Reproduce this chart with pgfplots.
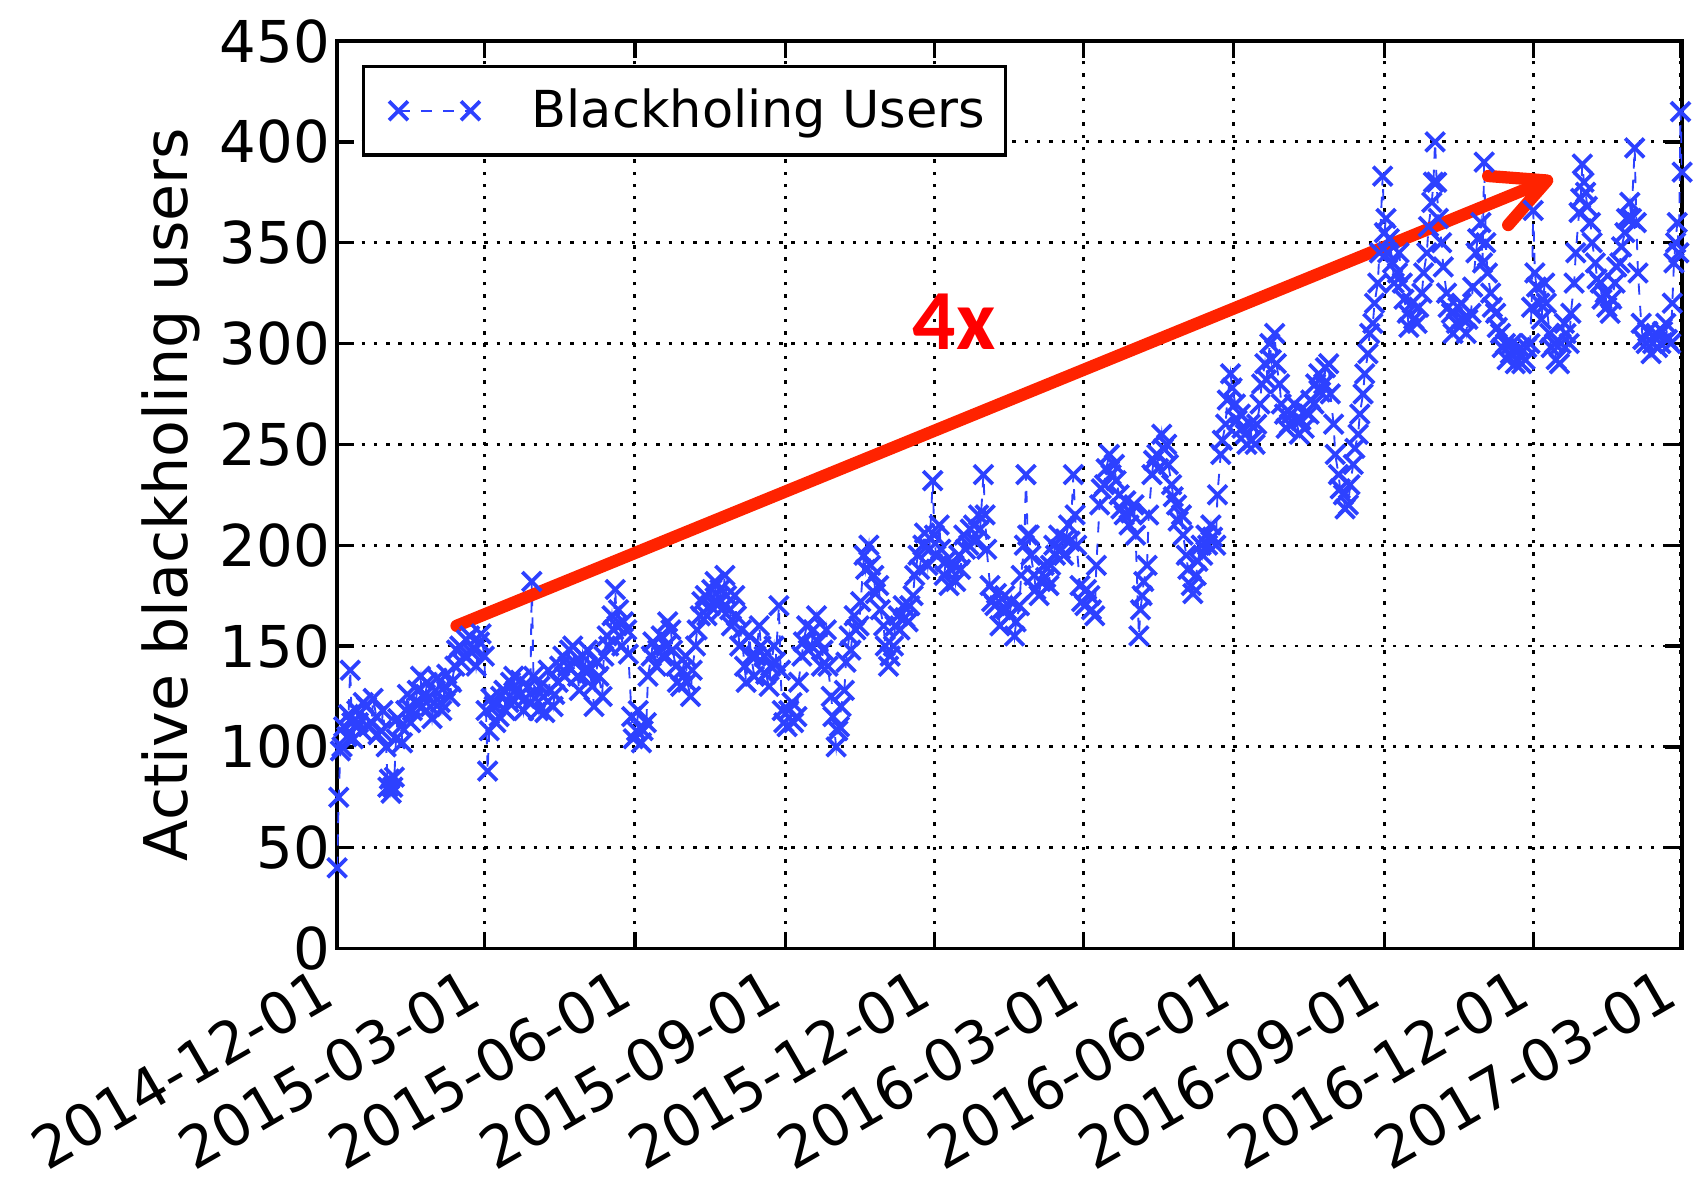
\documentclass[border=0pt]{standalone}
\usepackage{pgfplots}
\pgfplotsset{compat=1.18}
\usepackage{pgfplotstable}
\usepackage{fontspec}
\setmainfont{DejaVu Sans}
\newfontfamily\calib{Carlito}
\usetikzlibrary{arrows.meta}
\definecolor{mplblue}{RGB}{45,65,255}
\definecolor{arrowred}{RGB}{255,35,0}
\newcommand{\fs}{\fontsize{15.5}{18}\selectfont}

% day = days since 2014-12-01
\pgfplotstableread{
day users
0 40
1 75
2 98
3 100
4 110
6 105
7 116
8 138
9 112
10 104
12 118
13 112
15 108
16 122
18 120
19 110
21 112
22 124
24 115
25 106
27 108
28 118
30 100
31 80
32 84
33 77
34 80
35 85
36 104
37 114
39 110
40 102
42 118
43 126
45 112
46 118
48 122
49 128
51 135
52 120
54 126
55 132
57 120
58 114
60 128
61 134
63 122
64 118
66 130
67 136
69 125
70 132
72 140
73 148
75 150
76 142
78 145
79 153
81 155
82 147
84 148
85 140
87 152
88 156
90 145
91 118
92 88
93 108
94 124
96 120
97 112
99 115
100 125
102 128
103 118
105 122
106 132
108 135
109 128
111 125
112 133
114 118
115 124
117 130
118 122
119 182
120 135
121 124
123 118
124 130
126 125
127 117
129 138
130 128
132 120
133 126
135 132
136 140
138 145
139 135
141 140
142 148
144 150
145 142
147 135
148 128
150 145
151 138
153 148
154 138
156 130
157 120
159 142
160 135
162 125
163 145
165 155
166 150
168 165
169 158
170 178
171 160
172 168
174 150
175 162
177 158
178 146
180 115
181 104
183 108
184 118
186 102
187 108
189 112
190 135
192 145
193 152
195 140
196 148
198 155
199 145
201 150
202 162
204 158
205 148
207 140
208 132
210 130
211 138
213 145
214 132
216 125
217 138
219 150
220 158
222 165
223 172
225 175
226 165
228 170
229 178
231 182
232 172
234 178
235 168
237 185
238 175
240 168
241 160
243 175
244 165
246 150
247 158
249 140
250 132
252 155
253 145
255 135
256 145
258 160
259 150
261 145
262 136
264 130
265 140
267 150
268 142
270 170
271 138
272 118
273 112
275 110
276 118
278 122
279 112
281 115
282 132
284 145
285 152
287 160
288 148
290 150
291 158
293 165
294 152
296 140
297 148
299 158
300 140
302 125
303 115
305 100
306 108
307 110
308 120
310 128
311 142
313 155
314 148
316 165
317 158
319 160
320 172
322 195
323 188
325 200
326 190
328 185
329 176
331 180
332 168
334 160
335 150
337 140
338 145
340 150
341 160
343 165
344 158
346 170
347 164
349 162
350 170
352 175
353 185
355 195
356 188
358 200
359 206
361 190
362 198
364 232
365 205
366 195
368 210
369 198
371 185
372 192
374 180
375 188
377 190
378 182
380 195
381 188
383 205
384 198
386 200
387 208
389 210
390 202
392 215
393 208
395 235
396 215
397 198
399 180
400 172
402 170
403 176
405 160
406 168
408 175
409 168
411 165
412 172
414 155
415 162
417 170
418 185
420 200
421 235
422 205
423 205
424 195
426 185
427 178
429 175
430 182
432 190
433 184
435 180
436 190
438 200
439 195
441 205
442 198
444 195
445 203
447 210
448 202
450 235
451 215
452 200
454 180
455 172
457 170
458 178
460 175
461 168
463 165
464 190
466 220
467 228
469 230
470 238
472 245
473 235
475 240
476 232
478 225
479 218
481 215
482 222
484 210
485 216
487 220
488 205
490 155
491 168
492 175
493 182
495 190
496 215
498 235
499 242
501 245
502 238
504 255
505 248
507 250
508 240
510 230
511 224
513 220
514 212
516 215
517 205
519 195
520 188
522 180
523 176
525 185
526 192
528 200
529 195
531 205
532 200
534 210
535 204
537 200
538 225
540 245
541 252
543 260
544 272
546 285
547 278
549 270
550 262
552 265
553 258
555 255
556 250
558 260
559 252
561 250
562 260
564 270
565 280
567 290
568 282
570 300
571 292
573 305
574 290
576 280
577 270
579 265
580 258
582 260
583 265
585 270
586 262
588 255
589 262
591 258
592 266
594 265
595 272
597 270
598 280
600 285
601 276
603 280
604 288
606 290
607 275
609 260
610 245
612 235
613 228
615 225
616 218
618 220
619 230
621 240
622 248
624 255
625 265
627 275
628 285
630 295
631 305
633 310
634 320
636 330
637 345
639 383
640 355
641 362
642 345
643 352
645 340
646 330
648 335
649 345
651 330
652 322
654 315
655 308
657 320
658 312
660 310
661 318
663 325
664 335
666 345
667 358
669 370
670 380
671 400
672 380
673 362
675 350
676 338
678 325
679 318
681 315
682 305
684 310
685 318
687 320
688 312
690 305
691 312
693 315
694 328
696 345
697 352
699 360
700 340
701 390
702 350
703 335
705 325
706 318
708 315
709 308
711 305
712 298
714 300
715 292
717 295
718 300
720 290
721 296
723 298
724 290
726 292
727 298
729 300
730 318
731 366
732 335
733 328
735 320
736 312
738 330
739 320
741 305
742 298
744 300
745 292
747 290
748 300
750 310
751 305
753 300
754 315
756 330
757 345
759 365
760 372
761 389
762 380
763 375
764 368
766 360
767 350
769 340
770 332
772 330
773 322
775 325
776 318
778 315
779 322
781 330
782 338
784 340
785 348
787 355
788 362
790 370
791 362
793 397
794 360
795 335
797 310
798 302
800 300
801 306
803 295
804 300
806 305
807 298
809 300
810 306
812 310
813 302
815 300
816 320
817 340
818 350
819 360
820 345
821 415
822 385
}\blackholing

\begin{document}
\begin{tikzpicture}
\begin{axis}[name=ax,scale only axis,width=12.704cm,height=8.571cm,
  xmin=0,xmax=822,ymin=0,ymax=450,
  xtick={0,90,182,274,365,456,548,640,731,821},
  xticklabels={2014-12-01,2015-03-01,2015-06-01,2015-09-01,2015-12-01,
    2016-03-01,2016-06-01,2016-09-01,2016-12-01,2017-03-01},
  ytick={0,50,...,450},
  tick align=inside,tick pos=both,major tick length=0.16cm,
  tick style={black,line width=0.9pt},
  axis line style={line width=0.9pt},
  /pgf/number format/assume math mode=true,
  tick label style={font=\fs},
  yticklabel style={inner xsep=0pt,xshift=-0.06cm},
  xticklabel style={rotate=30,anchor=north east,inner sep=0pt,xshift=-0.25cm,yshift=-0.04cm},
  ylabel={Active blackholing users},
  ylabel style={font=\fontsize{16.2}{19}\selectfont,at={(axis description cs:-0.1236,0.5)},anchor=center},
  grid=major,grid style={black,line width=0.8pt,dash pattern=on 0.9pt off 2.4pt},
  legend style={at={(0.0185,0.974)},anchor=north west,draw=black,
    line width=0.9pt,font=\fontsize{13.7}{16}\selectfont,inner xsep=0.12cm,inner ysep=0.14cm},
  legend cell align=left,
  legend image code/.code={
    \path (0cm,0cm);
    \draw[#1,mark=none,dashed] (0.2cm,0cm) -- (0.88cm,0cm);
    \draw[#1,solid,only marks] plot coordinates {(0.2cm,0cm) (0.88cm,0cm)};
  },
]
\addplot[mplblue,line width=0.5pt,dashed,mark=x,mark size=3.6pt,
  mark options={solid,line width=1pt}] table[x=day,y=users] {\blackholing};
\addlegendentry{\hspace{0.42cm}Blackholing Users}
\draw[arrowred,line width=3.3pt,line cap=round,
  -{Straight Barb[length=0.5cm,width=0.5cm,line cap=round,round]}]
  (axis cs:73,160) -- (axis cs:743,382);
\node[text=red,font=\calib\bfseries\fontsize{23}{25}\selectfont] at (axis cs:377,311) {4x};
\end{axis}
\pgfresetboundingbox
\path[use as bounding box] ([xshift=-3.184cm,yshift=-2.163cm]ax.south west)
  rectangle ([xshift=0.112cm,yshift=0.388cm]ax.north east);
\end{tikzpicture}
\end{document}
